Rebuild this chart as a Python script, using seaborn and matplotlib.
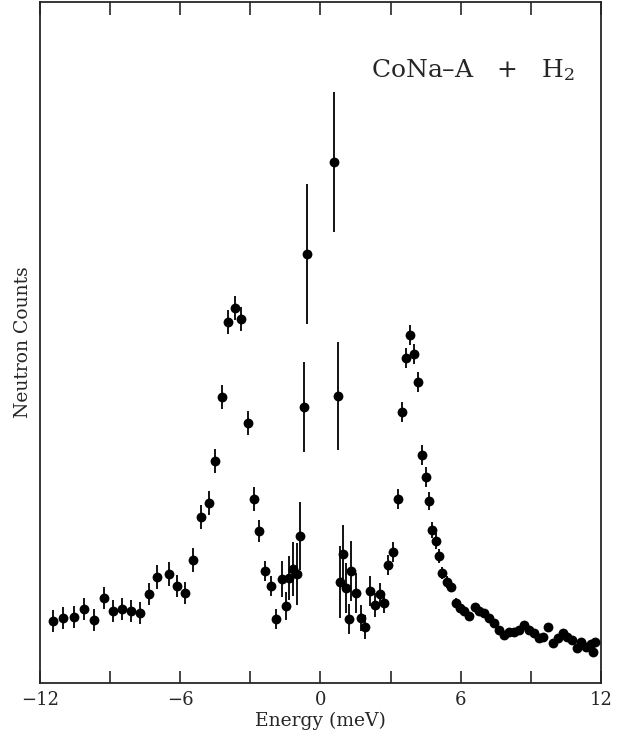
import numpy as np
import pandas as pd
import seaborn as sns
import matplotlib.pyplot as plt
from matplotlib.ticker import MultipleLocator

# Energy transfer (meV), counts (arb. units) and error bars
energy = [-11.46, -11.00, -10.55, -10.12, -9.69, -9.25, -8.86, -8.48, -8.11, -7.72,
          -7.35, -7.01, -6.48, -6.15, -5.81, -5.47, -5.13, -4.78, -4.51, -4.23,
          -3.94, -3.67, -3.39, -3.10, -2.86, -2.63, -2.37, -2.13, -1.90, -1.66,
          -1.48, -1.33, -1.16, -0.99, -0.86, -0.71, -0.56,
          0.59, 0.74, 0.83, 0.98, 1.09, 1.21, 1.32, 1.51, 1.72, 1.89,
          2.13, 2.32, 2.55, 2.72, 2.90, 3.11, 3.33, 3.47, 3.64, 3.82,
          4.00, 4.17, 4.34, 4.50, 4.65, 4.78, 4.95, 5.08, 5.21, 5.40,
          5.58, 5.80, 5.97, 6.15, 6.35, 6.61, 6.79, 7.01, 7.22, 7.44,
          7.65, 7.85, 8.08, 8.29, 8.50, 8.71, 8.92, 9.13, 9.36, 9.53,
          9.75, 9.96, 10.17, 10.36, 10.56, 10.75, 10.96, 11.14, 11.36, 11.56,
          11.67, 11.74]
counts = [62, 65, 66, 74, 63, 85, 72, 74, 72, 70,
          89, 106, 109, 97, 90, 123, 166, 180, 222, 286,
          361, 375, 364, 260, 184, 152, 112, 97, 64, 104,
          77, 105, 114, 109, 147, 276, 429,
          521, 287, 101, 129, 95, 64, 112, 90, 65, 56,
          92, 78, 89, 80, 118, 131, 184, 271, 325, 348,
          329, 301, 228, 206, 182, 153, 142, 127, 110, 101,
          96, 80, 75, 72, 67, 76, 72, 70, 65, 60,
          53, 48, 51, 51, 53, 58, 53, 50, 45, 46,
          56, 40, 45, 50, 46, 43, 35, 41, 36, 39,
          31, 41]
errors = [11, 11, 11, 11, 11, 11, 11, 11, 11, 11,
          11, 12, 12, 11, 11, 12, 12, 12, 12, 12,
          12, 12, 12, 12, 12, 11, 10, 10, 10, 18,
          14, 22, 27, 31, 34, 45, 70,
          70, 54, 36, 29, 25, 15, 30, 20, 13, 12,
          15, 12, 11, 10, 10, 10, 10, 10, 10, 10,
          10, 10, 10, 10, 9, 8, 8, 7, 6, 6,
          5, 5, 5, 5, 4, 4, 4, 4, 4, 4,
          4, 4, 4, 4, 4, 4, 4, 4, 4, 4,
          4, 4, 4, 4, 4, 4, 4, 4, 4, 4,
          4, 4]

df = pd.DataFrame({'energy': energy, 'counts': counts, 'err': errors})

sns.set_style('ticks')
plt.rcParams['font.family'] = ['DejaVu Serif']
plt.rcParams['mathtext.fontset'] = 'dejavuserif'

fig = plt.figure(figsize=(6.18, 7.47), dpi=100)
ax = fig.add_axes([0.0647, 0.0857, 0.9078, 0.9116])

ax.errorbar(df['energy'], df['counts'], yerr=df['err'], fmt='none',
            ecolor='black', elinewidth=1.3, capsize=0)
sns.scatterplot(data=df, x='energy', y='counts', ax=ax, color='black',
                s=50, edgecolor='black', linewidth=0, zorder=3)

ax.set_xlim(-12, 12)
ax.set_ylim(0, 681)
ax.xaxis.set_major_locator(MultipleLocator(6))
ax.xaxis.set_minor_locator(MultipleLocator(3))
ax.tick_params(axis='x', which='both', direction='in', top=True, bottom=True,
               length=9, width=1.2, labelsize=13, pad=6)
ax.tick_params(axis='y', which='both', left=False, right=False, labelleft=False)
ax.set_xticks([-12, -6, 0, 6, 12])
ax.set_xticklabels(['\u221212', '\u22126', '0', '6', '12'])
for sp in ax.spines.values():
    sp.set_linewidth(1.3)
    sp.set_visible(True)

ax.set_xlabel('Energy (meV)', fontsize=13.5, labelpad=2)
ax.set_ylabel('Neutron Counts', fontsize=13.5, labelpad=6)

ax.text(0.772, 0.9, 'CoNa\u2013A   +   H$_2$', transform=ax.transAxes,
        fontsize=18, ha='center', va='center')

fig.savefig('out.png', dpi=100)
